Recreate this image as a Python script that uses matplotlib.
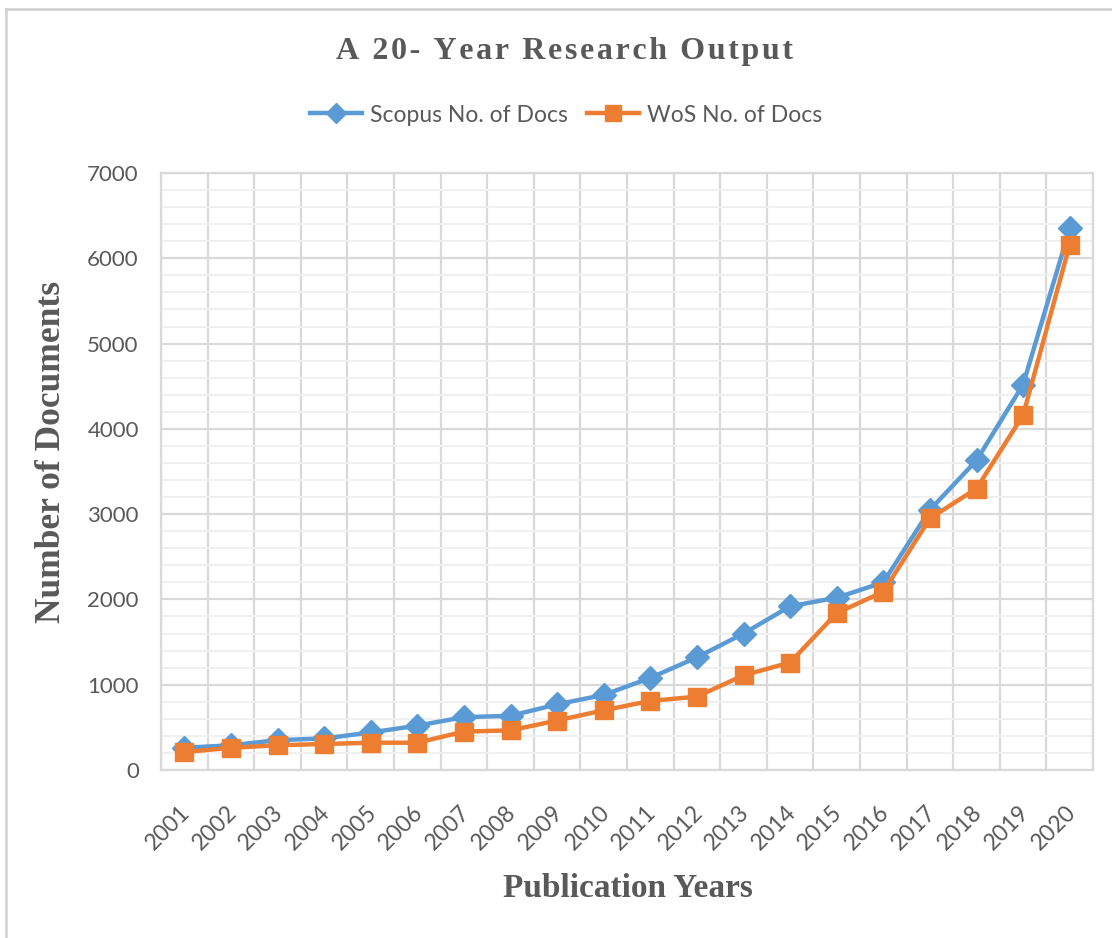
import matplotlib
matplotlib.use("Agg")
import matplotlib.pyplot as plt
import matplotlib.transforms as mtransforms
from matplotlib.lines import Line2D
from matplotlib.ticker import MultipleLocator

years = [str(y) for y in range(2001, 2021)]
scopus = [260, 290, 350, 370, 440, 520, 620, 635, 770, 880, 1080, 1320, 1600, 1920, 2020, 2200, 3050, 3630, 4520, 6350]
wos = [210, 260, 290, 305, 320, 320, 450, 465, 580, 700, 810, 860, 1110, 1260, 1840, 2090, 2950, 3300, 4160, 6160]

W, H = 1112, 938
fig = plt.figure(figsize=(W / 100, H / 100), dpi=100)
fig.patch.set_facecolor("white")

left, right, top, bottom = 161, 1093, 173, 770
aw, ah = right - left, bottom - top
ax = fig.add_axes([left / W, 1 - bottom / H, aw / W, ah / H])

x = list(range(len(years)))
blue = "#5B9BD5"
orange = "#ED7D31"
gray = "#595959"
ax.plot(x, scopus, color=blue, lw=3.2, marker="D", ms=12, mec=blue, mfc=blue, zorder=3, solid_joinstyle="round")
ax.plot(x, wos, color=orange, lw=3.2, marker="s", ms=13, mec=orange, mfc=orange, zorder=4, solid_joinstyle="round")

ax.set_xlim(-0.5, len(years) - 0.5)
ax.set_ylim(0, 7000)
ax.yaxis.set_major_locator(MultipleLocator(1000))
ax.yaxis.set_minor_locator(MultipleLocator(200))
ax.set_xticks(x)
ax.set_xticks([i + 0.5 for i in range(-1, len(years))], minor=True)
ax.set_xticklabels(years, rotation=45, ha="right", rotation_mode="anchor", fontsize=16.5, color=gray, family="Lato")
ax.tick_params(axis="y", labelsize=16, labelcolor=gray, length=0, pad=16, which="both")
for lab in ax.get_yticklabels():
    lab.set_family("Lato")
ax.tick_params(axis="x", length=0, pad=23, which="both")
shift = mtransforms.ScaledTranslation(-5 / 100, 0, fig.dpi_scale_trans)
for lab in ax.get_xticklabels():
    lab.set_transform(lab.get_transform() + shift)

ax.grid(which="major", axis="y", color="#D9D9D9", lw=1.6)
ax.grid(which="minor", axis="y", color="#F0F0F0", lw=1.4)
ax.grid(which="minor", axis="x", color="#D9D9D9", lw=1.6)
ax.set_axisbelow(True)
for s in ax.spines.values():
    s.set_color("#D9D9D9")
    s.set_linewidth(1.6)

ax.set_xlabel("Publication Years", fontsize=24, fontweight="bold", family="Liberation Serif", color=gray, va="center")
ax.xaxis.set_label_coords((628 - left) / aw, -(888 - bottom) / ah)
ax.set_ylabel("Number of Documents", fontsize=25.5, fontweight="bold", family="Liberation Serif", color=gray, va="center")
ax.yaxis.set_label_coords(-(left - 52) / aw, 1 - (452 - top) / ah)

hs = "\u200a"
title = "A 20- Year Research Output"
spaced = hs.join(title)
fig.text(565 / W, 1 - 52 / H, spaced, ha="center", va="center",
         fontsize=23, fontweight="bold", family=["Liberation Serif", "DejaVu Serif"], color=gray)

handles = [Line2D([], [], color=blue, lw=3.2, marker="D", ms=10),
           Line2D([], [], color=orange, lw=3.2, marker="s", ms=12)]
leg = fig.legend(handles, ["Scopus No. of Docs", "WoS No. of Docs"], loc="center",
                 bbox_to_anchor=(566 / W, 1 - 115 / H), ncol=2, frameon=False,
                 prop={"family": "Lato", "size": 16.5}, handlelength=2.3,
                 columnspacing=0.8, handletextpad=0.35)
for t in leg.get_texts():
    t.set_color(gray)

fig.add_artist(Line2D([6 / W, 6 / W], [0, 1 - 9 / H], color="#D0D0D0", lw=1.8, transform=fig.transFigure))
fig.add_artist(Line2D([6 / W, 1], [1 - 9 / H, 1 - 9 / H], color="#D0D0D0", lw=1.8, transform=fig.transFigure))

fig.savefig("out.png", dpi=100)
